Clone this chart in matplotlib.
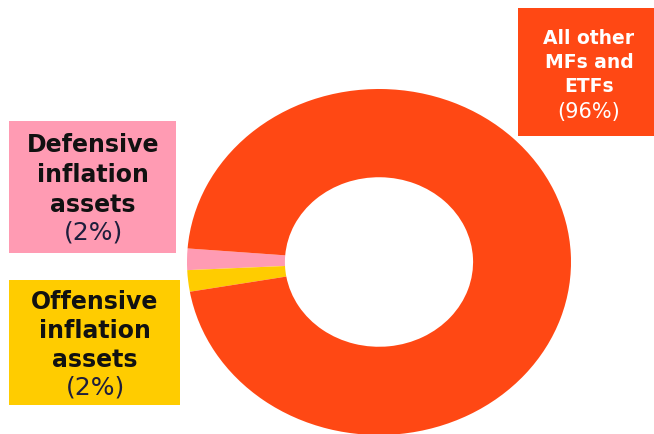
import matplotlib.pyplot as plt
from matplotlib.patches import Rectangle

# share of holdings, in percent
segments = ["Defensive inflation assets", "Offensive inflation assets", "All other MFs and ETFs"]
shares = [2, 2, 96]
colors = ["#FF9BB3", "#FFCC00", "#FF4814"]

label_lines = [
    ["Defensive", "inflation", "assets"],
    ["Offensive", "inflation", "assets"],
    ["All other", "MFs and", "ETFs"],
]
label_pcts = ["(2%)", "(2%)", "(96%)"]

W, H = 654, 435


def px(x, y):
    return x / W, 1 - y / H


fig = plt.figure(figsize=(W / 100, H / 100), dpi=100)
ax = fig.add_axes([0, 0, 1, 1])

ax.pie(
    shares,
    colors=colors,
    startangle=175.5,
    counterclock=True,
    radius=1.0,
    wedgeprops=dict(width=0.51, linewidth=0),
)
ax.set_aspect("auto")
# ring centre sits at (379, 263) px, radii 192 px across and 173 px down
ax.set_xlim(-379 / 192, (W - 379) / 192)
ax.set_ylim(-(H - 263) / 173, 263 / 173)
ax.axis("off")

# label boxes: (left, top, right, bottom) in px, text centre x, line ys
boxes = [
    ((9, 122, 176, 254), 93, [145, 175, 205], 233, "#111111", "#1e1e3c", 17, 18),
    ((9, 281, 180, 406), 95, [302, 331, 360], 388, "#111111", "#1e1e3c", 17, 18),
    ((518, 9, 654, 137), 589, [38, 62, 86], 112, "white", "white", 13.5, 15),
]

for (box, cx, ys, pct_y, fg, pct_fg, fs, pct_fs), lines, pct, color in zip(
    boxes, label_lines, label_pcts, colors
):
    x0, y0, x1, y1 = box
    fx0, fy1 = px(x0, y1)
    fx1, fy0 = px(x1, y0)
    fig.patches.append(
        Rectangle((fx0, fy1), fx1 - fx0, fy0 - fy1, transform=fig.transFigure,
                  facecolor=color, edgecolor="none", zorder=0)
    )
    for line, y in zip(lines, ys):
        fx, fy = px(cx, y)
        fig.text(fx, fy, line, ha="center", va="center", fontsize=fs,
                 fontweight="bold", color=fg, family="DejaVu Sans")
    fx, fy = px(cx, pct_y)
    fig.text(fx, fy, pct, ha="center", va="center", fontsize=pct_fs,
             color=pct_fg, family="DejaVu Sans")

fig.savefig("out.png", dpi=100)
